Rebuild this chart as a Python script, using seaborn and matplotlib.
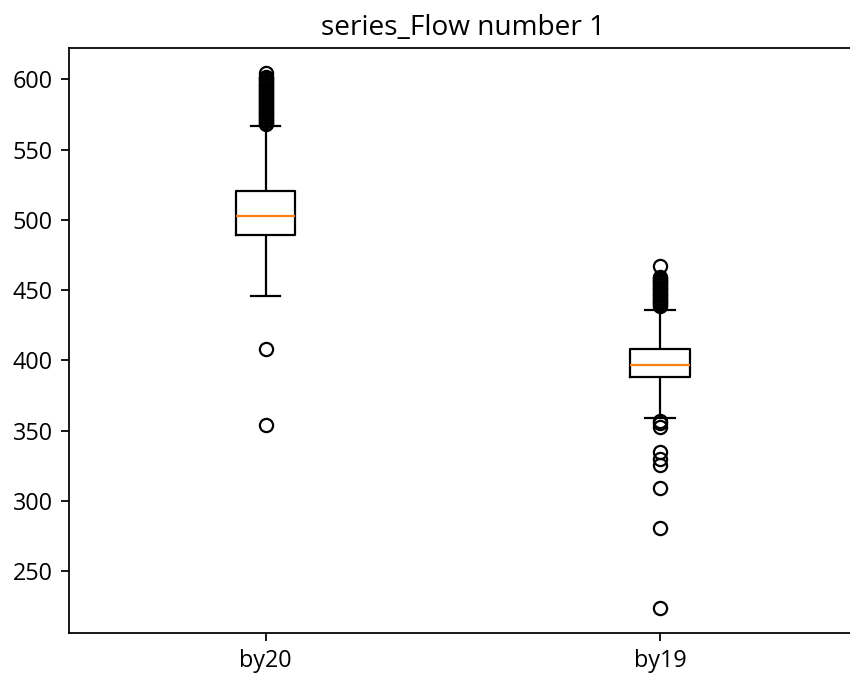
import matplotlib
matplotlib.use("Agg")
import matplotlib.pyplot as plt
import seaborn as sns
import pandas as pd

# ---- data ----
categories = ["by20", "by19"]

# by20 statistics
by20_low_fliers = [354.0, 408.0]
by20_whisker_low = 446.0
by20_q1 = 489.0
by20_median = 502.5
by20_q3 = 520.5
by20_whisker_high = 567.0
by20_high_fliers = [568, 569, 570, 571, 572, 573, 574, 575, 576, 577, 578, 579,
                    580, 581, 582, 583, 584, 585, 586, 587, 588, 589, 590, 591,
                    592, 593, 594, 595, 596, 597, 598, 599, 600, 601, 602, 604.5]

# by19 statistics
by19_low_fliers = [224.0, 281.0, 309.0, 325.5, 330.0, 335.0, 352.5, 355.5, 357.0]
by19_whisker_low = 359.0
by19_q1 = 388.0
by19_median = 397.0
by19_q3 = 408.0
by19_whisker_high = 435.5
by19_high_fliers = [438.5, 439.5, 440.5, 441.5, 442.5, 443.5, 444.5, 445.5,
                    446.5, 447.5, 448.5, 449.5, 450.5, 451.5, 452.5, 453.5,
                    454.5, 455.5, 456.5, 457.5, 458.5, 459.5, 467.5]

# how many observations sit at each quartile level (keeps quartiles exact)
box_repeat = 40


def series_values(low, wlo, q1, med, q3, whi, high):
    return (list(low) + [wlo] + [q1] * box_repeat + [med] * box_repeat
            + [q3] * box_repeat + [whi] + list(high))


vals20 = series_values(by20_low_fliers, by20_whisker_low, by20_q1, by20_median,
                       by20_q3, by20_whisker_high, by20_high_fliers)
vals19 = series_values(by19_low_fliers, by19_whisker_low, by19_q1, by19_median,
                       by19_q3, by19_whisker_high, by19_high_fliers)

df = pd.DataFrame({
    "series": [categories[0]] * len(vals20) + [categories[1]] * len(vals19),
    "value": vals20 + vals19,
})

plt.rcParams["font.family"] = ["Open Sans", "DejaVu Sans"]

fig = plt.figure(figsize=(8.5, 6.77), dpi=100)
ax = fig.add_axes([68.5 / 850, (677 - 633.3) / 677, 788.7 / 850, (633.3 - 47.7) / 677])

lw = 1.6
sns.boxplot(
    data=df, x="series", y="value", order=categories, ax=ax,
    width=0.15, fill=False, color="black", linewidth=lw, whis=1.5,
    boxprops=dict(color="black", linewidth=lw),
    whiskerprops=dict(color="black", linewidth=lw),
    capprops=dict(color="black", linewidth=lw),
    medianprops=dict(color="#ff7f0e", linewidth=lw),
    flierprops=dict(marker="o", markerfacecolor="none", markeredgecolor="black",
                    markersize=9.5, markeredgewidth=1.6, linestyle="none"),
)

ax.set_xlim(-0.5, 1.5)
ax.set_ylim(205.8, 622.5)
ax.set_yticks([250, 300, 350, 400, 450, 500, 550, 600])
ax.set_xlabel("")
ax.set_ylabel("")
ax.set_title("series_Flow number 1", fontsize=20.2, pad=9.5)
ax.tick_params(labelsize=16.8, length=5.6, width=1.27, pad=5.6, colors="black")
for sp in ax.spines.values():
    sp.set_linewidth(1.27)
    sp.set_color("black")
# the right edge of the axes lies beyond the picture's border in the reference
ax.spines["right"].set_visible(False)
ax.grid(False)

fig.savefig("out.png", dpi=100)
